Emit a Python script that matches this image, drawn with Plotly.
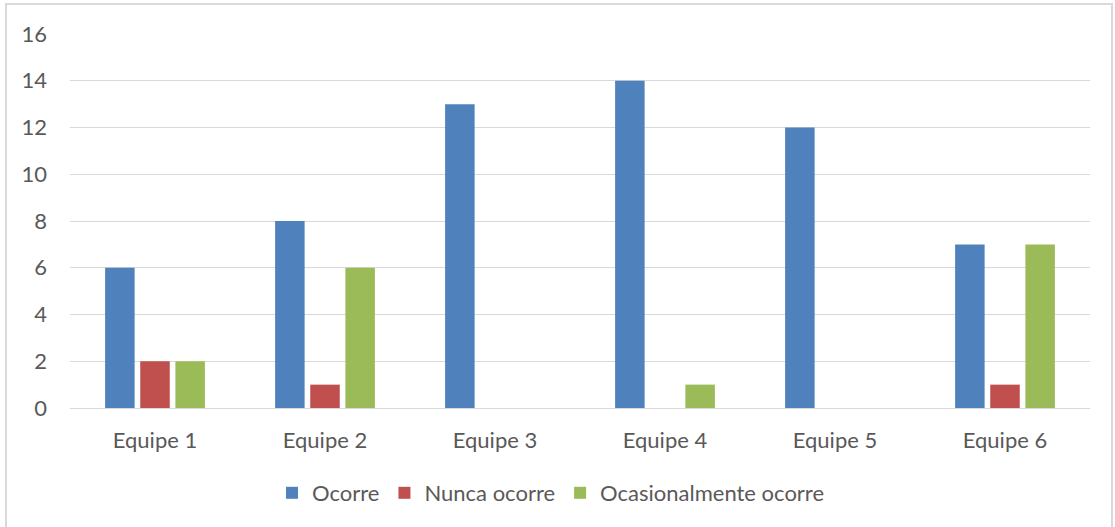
import plotly.graph_objects as go

# Dados
equipes = ["Equipe 1", "Equipe 2", "Equipe 3", "Equipe 4", "Equipe 5", "Equipe 6"]
ocorre = [6, 8, 13, 14, 12, 7]
nunca_ocorre = [2, 1, 0, 0, 0, 1]
ocasionalmente = [2, 6, 0, 1, 0, 7]

series = [
    ("Ocorre", ocorre, "#4F81BD"),
    ("Nunca ocorre", nunca_ocorre, "#C0504D"),
    ("Ocasionalmente ocorre", ocasionalmente, "#9BBB59"),
]

fig = go.Figure()
for name, vals, colour in series:
    fig.add_trace(go.Bar(
        x=equipes, y=vals, name=name,
        marker=dict(color=colour, line=dict(width=0)),
        hoverinfo="x+y+name",
    ))

# plot area in pixels: x 70..1090, y 34..408
W, H = 1115, 527
L, R, T, B = 70, 1090, 34, 408
pw, ph = R - L, B - T
FONT = "Lato, Carlito, sans-serif"
TXT = "#595959"

fig.update_layout(
    width=W, height=H,
    margin=dict(l=L, r=W - R, t=T, b=H - B),
    paper_bgcolor="white", plot_bgcolor="white",
    font=dict(family=FONT, size=22, color=TXT),
    barmode="group",
    bargap=0.38,
    bargroupgap=0.16,
    legend=dict(
        orientation="h", x=(272 - L) / pw, xanchor="left",
        y=(B - 493) / ph, yanchor="middle",
        font=dict(size=22, color=TXT),
        itemwidth=30, tracegroupgap=0,
    ),
    showlegend=True,
)

fig.update_yaxes(
    range=[0, 16], dtick=2, showgrid=True, gridcolor="#D9D9D9", gridwidth=1,
    zeroline=True, zerolinecolor="#D9D9D9", zerolinewidth=1,
    showline=False, ticks="", ticklabelstandoff=22,
    tickfont=dict(size=22, color=TXT),
)
fig.update_xaxes(
    showgrid=False, showline=False, ticks="", ticklabelstandoff=17,
    tickfont=dict(size=22, color=TXT),
)

# chart area border (outer frame of the chart)
fig.add_shape(
    type="rect", xref="paper", yref="paper",
    x0=(6 - L) / pw, x1=(1112 - L) / pw,
    y0=(B - 540) / ph, y1=(B - 4) / ph,
    line=dict(color="#D9D9D9", width=2), fillcolor="rgba(0,0,0,0)",
    layer="below",
)

fig.write_html(
    "out.html",
    config={"displayModeBar": False},
    post_script="document.body.style.margin='0px';",
)
